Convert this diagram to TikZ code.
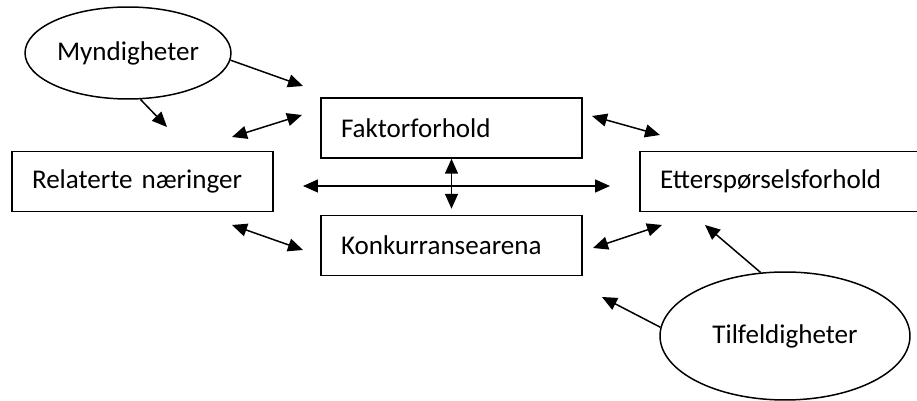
\documentclass[tikz,border=0pt]{standalone}
\usepackage{fontspec}
\setmainfont{Carlito}
\usetikzlibrary{positioning,arrows.meta,shapes.geometric}

\begin{document}
\begin{tikzpicture}[x=0.02cm, y=-0.02cm, line width=0.85pt,
    font=\fontsize{15.4pt}{18pt}\selectfont,
    box/.style={draw, rectangle, minimum height=1.2cm, inner xsep=0.4cm, align=left},
    oval/.style={draw, ellipse, inner sep=0pt},
    tip/.style={-{Triangle[length=0.3cm, width=0.26cm]}},
    dbl/.style={{Triangle[length=0.3cm, width=0.26cm]}-{Triangle[length=0.3cm, width=0.26cm]}}]
    \clip (0,0) rectangle (917,401);

    % boxes
    \node[box, text width=4.42cm] (fak) at (451.5,128) {Faktorforhold};
    \node[box, text width=4.42cm] (konk) at (451.5,245.5) {Konkurransearena};
    \node[box, text width=4.42cm] (rel) at (142.5,181.5) {Relaterte næringer};
    \node[box, text width=5.2cm] (ett) at (790,181.5) {Etterspørselsforhold};

    % ellipses
    \node[oval, minimum width=4.12cm, minimum height=1.84cm] (myn) at (128,53) {Myndigheter};
    \node[oval, minimum width=5cm, minimum height=2.56cm] (til) at (785,336) {Tilfeldigheter};

    % free arrow ends
    \coordinate (mynA) at (303,86);
    \coordinate (mynB) at (167,127);
    \coordinate (rf1) at (232,137);
    \coordinate (rf2) at (302,115);
    \coordinate (re1) at (303,186);
    \coordinate (re2) at (610,186);
    \coordinate (rk1) at (232,225);
    \coordinate (rk2) at (303,250);
    \coordinate (fe1) at (592,116);
    \coordinate (fe2) at (660,135);
    \coordinate (ke1) at (593,248);
    \coordinate (ke2) at (662,225);
    \coordinate (tilA) at (705,225);
    \coordinate (tilB) at (602,297);

    \draw[tip] (myn.-4) -- (mynA);
    \draw[tip] (myn.-75) -- (mynB);
    \draw[dbl] (rf1) -- (rf2);
    \draw[dbl] (re1) -- (re2);
    \draw[dbl, shorten >=0.12cm] (fak) -- (konk);
    \draw[dbl] (rk1) -- (rk2);
    \draw[dbl] (fe1) -- (fe2);
    \draw[dbl] (ke1) -- (ke2);
    \draw[tip] (til.111) -- (tilA);
    \draw[tip] (til.176) -- (tilB);
\end{tikzpicture}
\end{document}
